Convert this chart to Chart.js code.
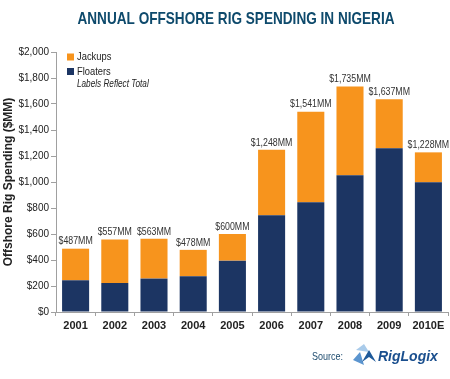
<!DOCTYPE html>
<html>
<head>
<meta charset="utf-8">
<title>Annual Offshore Rig Spending in Nigeria</title>
<script src="https://cdn.jsdelivr.net/npm/chart.js@4.4.1/dist/chart.umd.min.js"></script>
<style>
  html, body { margin: 0; padding: 0; background: #fff; }
  #wrap { width: 450px; height: 379px; }
</style>
</head>
<body>
<div id="wrap"><canvas id="chart" width="450" height="379"></canvas></div>
<script>
const YEARS = ['2001','2002','2003','2004','2005','2006','2007','2008','2009','2010E'];
const FLOATERS = [244, 223, 257, 275, 395, 744, 844, 1052, 1259, 998];
const JACKUPS = [243, 334, 306, 203, 205, 504, 697, 683, 378, 230];
const TOTAL_LABELS = ['$487MM','$557MM','$563MM','$478MM','$600MM','$1,248MM','$1,541MM','$1,735MM','$1,637MM','$1,228MM'];

const FONT = "'Liberation Sans', Arial, sans-serif";
const ORANGE = '#f7941d';
const NAVY = '#1c3563';
const AXIS = '#a0a0a0';

// the original uses a condensed face; squeeze regular text horizontally
function squeezed(ctx, text, x, y, sx) {
  ctx.save();
  ctx.translate(x, y);
  ctx.scale(sx, 1);
  ctx.fillText(text, 0, 0);
  ctx.restore();
}

// totals above each stack
const totalLabels = {
  id: 'totalLabels',
  afterDatasetsDraw(chart) {
    const ctx = chart.ctx;
    const meta = chart.getDatasetMeta(1);
    ctx.save();
    ctx.font = '10px ' + FONT;
    ctx.fillStyle = '#333';
    ctx.textAlign = 'center';
    ctx.textBaseline = 'bottom';
    meta.data.forEach((bar, i) => {
      squeezed(ctx, TOTAL_LABELS[i], bar.x, bar.y - 2, 0.88);
    });
    ctx.restore();
  }
};

// title, legend box, source line
const decor = {
  id: 'decor',
  afterDraw(chart) {
    const ctx = chart.ctx;
    const area = chart.chartArea;
    ctx.save();

    const title = 'ANNUAL OFFSHORE RIG SPENDING IN NIGERIA';
    ctx.font = 'bold 17px ' + FONT;
    ctx.fillStyle = '#0e4a6c';
    ctx.textBaseline = 'middle';
    ctx.textAlign = 'center';
    const w = ctx.measureText(title).width;
    squeezed(ctx, title, 236, 19, Math.min(1, 317 / w));

    // legend inside plot
    const lx = area.left + 11;
    const items = [
      { text: 'Jackups', color: chart.data.datasets[1].backgroundColor },
      { text: 'Floaters', color: chart.data.datasets[0].backgroundColor }
    ];
    ctx.textAlign = 'left';
    ctx.font = '11px ' + FONT;
    items.forEach((it, i) => {
      const cy = 57 + i * 14.5;
      ctx.fillStyle = it.color;
      ctx.fillRect(lx, cy - 3.5, 7, 7);
      ctx.fillStyle = '#222';
      squeezed(ctx, it.text, lx + 10, cy, 0.85);
    });
    ctx.font = 'italic 10px ' + FONT;
    squeezed(ctx, 'Labels Reflect Total', lx + 10, 84, 0.82);

    // source
    ctx.font = '11px ' + FONT;
    ctx.fillStyle = '#1d4b6e';
    squeezed(ctx, 'Source:', 312, 357, 0.82);

    // small logo mark
    ctx.fillStyle = '#a9cbea';
    ctx.beginPath();
    ctx.moveTo(356, 350); ctx.lineTo(364, 344); ctx.lineTo(369, 352); ctx.closePath();
    ctx.fill();
    ctx.fillStyle = '#5b95cf';
    ctx.beginPath();
    ctx.moveTo(353, 360); ctx.lineTo(360, 352); ctx.lineTo(364, 365); ctx.closePath();
    ctx.fill();
    ctx.fillStyle = '#1f5a9a';
    ctx.beginPath();
    ctx.moveTo(362, 362); ctx.lineTo(369, 350); ctx.lineTo(376, 362); ctx.lineTo(369, 357); ctx.closePath();
    ctx.fill();

    ctx.font = 'italic bold 14px ' + FONT;
    ctx.fillStyle = '#1a4f8e';
    ctx.fillText('RigLogix', 378, 357);
    ctx.restore();
  }
};

new Chart(document.getElementById('chart'), {
  type: 'bar',
  data: {
    labels: YEARS,
    datasets: [
      { label: 'Floaters', data: FLOATERS, backgroundColor: NAVY, stack: 's' },
      { label: 'Jackups', data: JACKUPS, backgroundColor: ORANGE, stack: 's' }
    ]
  },
  options: {
    responsive: false,
    animation: false,
    devicePixelRatio: 1,
    layout: { padding: { top: 52, right: 2, bottom: 0, left: 0 } },
    datasets: { bar: { categoryPercentage: 1, barPercentage: 0.69 } },
    plugins: {
      legend: { display: false },
      title: { display: false },
      tooltip: { enabled: false }
    },
    scales: {
      x: {
        stacked: true,
        grid: { display: true, drawOnChartArea: false, drawTicks: true, tickLength: 4, color: AXIS },
        border: { color: AXIS },
        ticks: { color: '#222', maxRotation: 0, font: { family: FONT, size: 11, weight: 'bold' }, padding: 3 },
        afterFit(s) { s.height = 67; }
      },
      y: {
        stacked: true,
        min: 0,
        max: 2000,
        grid: { display: true, drawOnChartArea: false, drawTicks: true, tickLength: 5, color: AXIS },
        border: { color: AXIS },
        ticks: {
          stepSize: 200,
          color: '#222',
          padding: 2,
          font: { family: FONT, size: 10 },
          callback: v => '$' + v.toLocaleString('en-US')
        },
        title: {
          display: true,
          text: 'Offshore Rig Spending ($MM)',
          color: '#222',
          padding: 1,
          font: { family: FONT, size: 12, weight: 'bold' }
        },
        afterFit(s) { s.width = 56; }
      }
    }
  },
  plugins: [totalLabels, decor]
});
</script>
</body>
</html>
